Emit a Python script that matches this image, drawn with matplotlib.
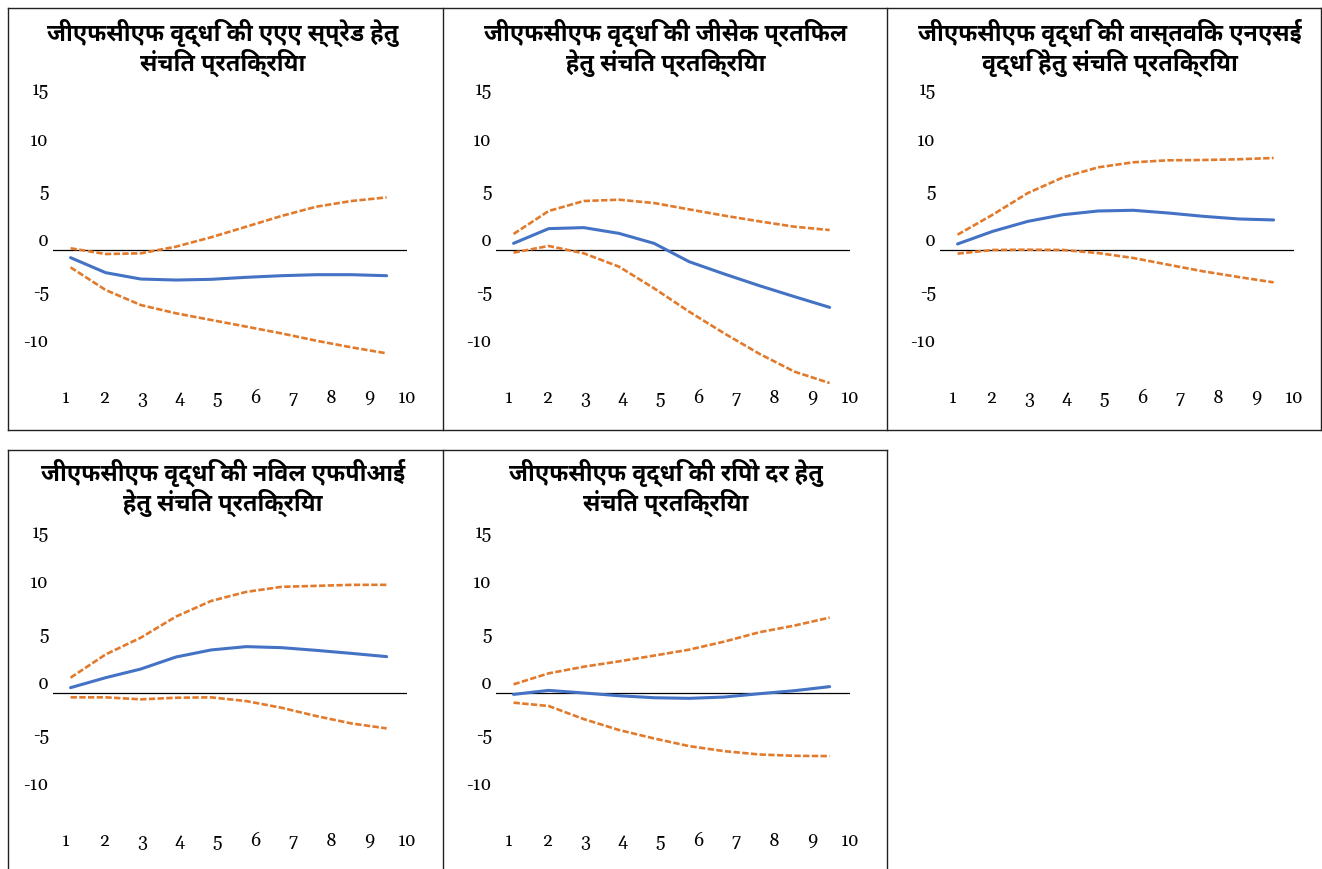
import numpy as np
import matplotlib
matplotlib.use("Agg")
import matplotlib.pyplot as plt
from matplotlib.lines import Line2D
from matplotlib.transforms import ScaledTranslation

# ---- data: cumulative responses over 10 periods (estimate, upper and lower bands)
periods = list(range(1, 11))
y_ticks = [-10, -5, 0, 5, 10, 15]

titles = [
    "जीएफसीएफ वृद्धि की एएए स्प्रेड हेतु\nसंचित प्रतिक्रिया",
    "जीएफसीएफ वृद्धि की जीसेक प्रतिफल\nहेतु संचित प्रतिक्रिया",
    "जीएफसीएफ वृद्धि की वास्तविक एनएसई\nवृद्धि हेतु संचित प्रतिक्रिया",
    "जीएफसीएफ वृद्धि की निवल एफपीआई\nहेतु संचित प्रतिक्रिया",
    "जीएफसीएफ वृद्धि की रिपो दर हेतु\nसंचित प्रतिक्रिया",
]

aaa_mid = [-0.76, -2.25, -2.88, -2.98, -2.91, -2.71, -2.55, -2.45, -2.45, -2.55]
aaa_hi = [0.17, -0.40, -0.33, 0.33, 1.26, 2.31, 3.37, 4.30, 4.86, 5.22]
aaa_lo = [-1.72, -3.97, -5.46, -6.28, -6.94, -7.60, -8.27, -9.00, -9.66, -10.25]

gsec_mid = [0.66, 2.12, 2.22, 1.65, 0.66, -1.16, -2.38, -3.54, -4.63, -5.69]
gsec_hi = [1.59, 3.87, 4.86, 4.99, 4.66, 4.03, 3.41, 2.84, 2.31, 1.98]
gsec_lo = [-0.26, 0.40, -0.33, -1.65, -3.80, -6.12, -8.27, -10.30, -12.07, -13.20]

nse_mid = [0.60, 1.85, 2.84, 3.50, 3.87, 3.94, 3.67, 3.34, 3.08, 2.98]
nse_hi = [1.52, 3.50, 5.65, 7.20, 8.20, 8.70, 8.90, 8.93, 9.00, 9.13]
nse_lo = [-0.36, 0.00, 0.03, 0.00, -0.30, -0.79, -1.46, -2.12, -2.68, -3.21]

fpi_mid = [0.50, 1.49, 2.35, 3.54, 4.24, 4.57, 4.47, 4.20, 3.90, 3.58]
fpi_hi = [1.49, 3.80, 5.46, 7.55, 9.10, 10.00, 10.50, 10.60, 10.70, 10.70]
fpi_lo = [-0.46, -0.46, -0.66, -0.50, -0.46, -0.83, -1.49, -2.32, -3.05, -3.54]

repo_mid = [-0.17, 0.23, -0.03, -0.30, -0.50, -0.56, -0.43, -0.10, 0.20, 0.60]
repo_hi = [0.83, 1.92, 2.58, 3.11, 3.68, 4.27, 5.07, 6.00, 6.66, 7.45]
repo_lo = [-0.99, -1.32, -2.62, -3.70, -4.54, -5.30, -5.80, -6.13, -6.26, -6.29]

series = [
    (aaa_mid, aaa_hi, aaa_lo),
    (gsec_mid, gsec_hi, gsec_lo),
    (nse_mid, nse_hi, nse_lo),
    (fpi_mid, fpi_hi, fpi_lo),
    (repo_mid, repo_hi, repo_lo),
]

# ---- styling
W, H, DPI = 1322, 869, 100
BLUE = "#4472C4"
ORANGE = "#E27A2C"
TITLE_FONT = dict(family=["Noto Sans Devanagari UI", "Noto Sans Devanagari"],
                  weight="bold", size=16.8)
TICK_FONT = ["Gelasio", "Crimson Text", "Liberation Serif", "DejaVu Serif"]
TICK_SIZE = 13

fig = plt.figure(figsize=(W / DPI, H / DPI), dpi=DPI)


def px_rect(x0, y0, x1, y1):
    """Figure-fraction rect from pixel corners (origin top-left)."""
    return [x0 / W, 1 - y1 / H, (x1 - x0) / W, (y1 - y0) / H]


# plot-area pixel boxes (left, top, right, bottom) and title rows
plot_boxes = [
    (53, 98.8, 407, 401.2),
    (496, 98.8, 850, 401.2),
    (940, 98.8, 1294, 401.2),
    (53, 541.5, 407, 843.9),
    (496, 541.5, 850, 843.9),
]
title_rows = [(33, 63)] * 3 + [(473, 503)] * 2

# tick labels along the bottom are spread a bit wider than the categories
label_span = (0.87, 10.58)
x_label_pos = np.linspace(label_span[0], label_span[1], len(periods))

for i, (box, (mid, hi, lo), title) in enumerate(zip(plot_boxes, series, titles)):
    ax = fig.add_axes(px_rect(*box))
    ax.set_xlim(0.5, 10.5)
    ax.set_ylim(-15, 15)
    for s in ax.spines.values():
        s.set_visible(False)
    ax.axhline(0, color="black", lw=0.9, zorder=1)
    ax.plot(periods, hi, color=ORANGE, lw=1.9, ls=(0, (2.4, 0.9)), zorder=2)
    ax.plot(periods, lo, color=ORANGE, lw=1.9, ls=(0, (2.4, 0.9)), zorder=2)
    ax.plot(periods, mid, color=BLUE, lw=2.2, zorder=3, solid_capstyle="round")

    ax.set_yticks(y_ticks)
    ax.set_yticklabels([str(v) for v in y_ticks], family=TICK_FONT, fontsize=TICK_SIZE)
    ax.tick_params(axis="y", length=0, pad=3)
    for lab in ax.get_yticklabels():
        lab.set_transform(lab.get_transform() + ScaledTranslation(0, 10 / DPI, fig.dpi_scale_trans))

    ax.set_xticks(x_label_pos)
    ax.set_xticklabels([str(p) for p in periods], family=TICK_FONT, fontsize=TICK_SIZE)
    ax.tick_params(axis="x", length=0, pad=-8)
    ax.patch.set_visible(False)

    cx = box[0] + 170
    for line, ty in zip(title.split("\n"), title_rows[i]):
        fig.text(cx / W, 1 - ty / H, line, ha="center", va="center", **TITLE_FONT)

# cell borders around the panels
border = dict(color="#222222", lw=1.0)
segments = [
    ((8, 1321), (8, 8)), ((8, 1321), (430, 430)),
    ((8, 8), (8, 430)), ((443, 443), (8, 430)), ((887, 887), (8, 430)), ((1321, 1321), (8, 430)),
    ((8, 887), (450, 450)),
    ((8, 8), (450, 869)), ((443, 443), (450, 869)), ((887, 887), (450, 869)),
]
for xs, ys in segments:
    fig.add_artist(Line2D([x / W for x in xs], [1 - y / H for y in ys], **border))

fig.savefig("out.png", dpi=DPI)
